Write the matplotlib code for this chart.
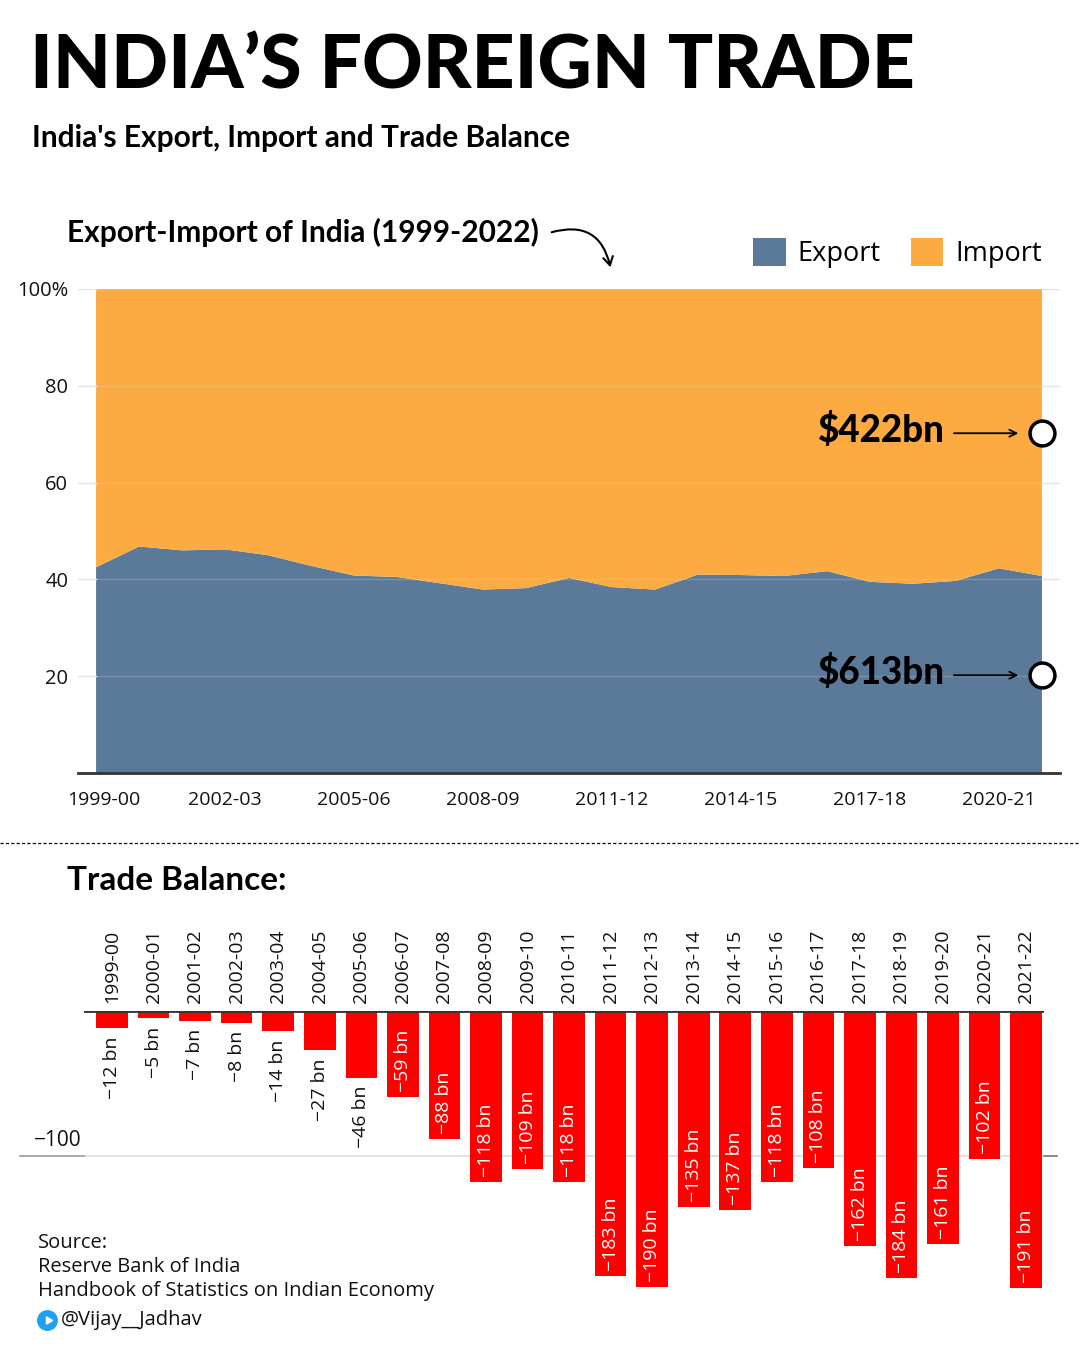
import matplotlib
matplotlib.use("Agg")
import matplotlib.pyplot as plt
from matplotlib.patches import FancyArrowPatch, Patch
import matplotlib.transforms as mtransforms
import numpy as np

# ---------------- data ----------------
years = ["1999-00", "2000-01", "2001-02", "2002-03", "2003-04", "2004-05",
         "2005-06", "2006-07", "2007-08", "2008-09", "2009-10", "2010-11",
         "2011-12", "2012-13", "2013-14", "2014-15", "2015-16", "2016-17",
         "2017-18", "2018-19", "2019-20", "2020-21", "2021-22"]
export_share = [42.5, 46.8, 46.0, 46.2, 45.0, 42.8, 40.8, 40.5, 39.2, 37.9,
                38.2, 40.3, 38.4, 37.9, 41.0, 40.9, 40.7, 41.7, 39.5, 39.1,
                39.7, 42.3, 40.7]
import_share = [100 - v for v in export_share]
trade_balance = [-12, -5, -7, -8, -14, -27, -46, -59, -88, -118, -109, -118,
                 -183, -190, -135, -137, -118, -108, -162, -184, -161, -102, -191]
area_ticks = [0, 3, 6, 9, 12, 15, 18, 21]
y_ticks = [20, 40, 60, 80, 100]
y_ticklabels = ["20", "40", "60", "80", "100%"]
callouts = [("$422bn", 70.2), ("$613bn", 20.2)]

EXPORT_C = "#5b7a99"
IMPORT_C = "#fcaa42"
BAR_C = "#ff0000"

W, H = 1080, 1350
fig = plt.figure(figsize=(W / 100, H / 100), dpi=100)
fig.patch.set_facecolor("white")

HEAD = ["Lato", "DejaVu Sans"]
BODY = ["Open Sans", "DejaVu Sans"]
plt.rcParams["font.family"] = BODY


def fx(px):
    return px / W


def fy(py):
    return 1 - py / H


# ---------------- titles ----------------
fig.text(fx(30), fy(67), "INDIA\u2019S FOREIGN TRADE", family=HEAD, weight="black",
         fontsize=54, va="center", ha="left", color="black")
fig.text(fx(32), fy(138), "India's Export, Import and Trade Balance", family=HEAD,
         weight="bold", fontsize=21.5, va="center", ha="left")
fig.text(fx(67), fy(232), "Export-Import of India (1999-2022)", family=HEAD,
         weight="bold", fontsize=21.5, va="center", ha="left")

arr = FancyArrowPatch((fx(549), fy(233)), (fx(611), fy(270)), transform=fig.transFigure,
                      connectionstyle="arc3,rad=-0.55", arrowstyle="->,head_length=6,head_width=3.5",
                      color="black", lw=1.5)
fig.add_artist(arr)

# ---------------- area chart ----------------
ax1 = fig.add_axes([fx(78), fy(773), fx(1060) - fx(78), fy(289) - fy(773)])
x = np.arange(len(years))
ax1.stackplot(x, export_share, import_share, colors=[EXPORT_C, IMPORT_C],
              linewidth=0, zorder=1)
ax1.set_xlim(-0.42, 22.42)
ax1.set_ylim(0, 100)
for v in y_ticks:
    ax1.axhline(v, color="#d8d8d8", lw=1, alpha=0.25, zorder=2)
    ax1.plot([0, 0.018], [v, v], color="#e6e6e6", lw=1, transform=ax1.get_yaxis_transform(), zorder=2)
    ax1.plot([0.982, 1.0], [v, v], color="#e6e6e6", lw=1, transform=ax1.get_yaxis_transform(), zorder=2)
ax1.set_yticks(y_ticks)
ax1.set_yticklabels(y_ticklabels)
ax1.set_xticks(area_ticks)
ax1.set_xticklabels([years[i] for i in area_ticks])
ax1.tick_params(axis="y", length=0, labelsize=14.5, colors="#111111", pad=7)
ax1.tick_params(axis="x", length=0, labelsize=14, colors="#111111", pad=13)
first = ax1.get_xticklabels()[0]
first.set_transform(first.get_transform() + mtransforms.ScaledTranslation(8 / 100, 0, fig.dpi_scale_trans))
for s in ["top", "right", "left"]:
    ax1.spines[s].set_visible(False)
ax1.spines["bottom"].set_color("#333333")
ax1.spines["bottom"].set_linewidth(2)
ax1.spines["bottom"].set_zorder(3)

for label, yv in callouts:
    ax1.scatter([len(years) - 1], [yv], s=320, facecolor="white", edgecolor="black",
                linewidth=2.5, zorder=6, clip_on=False)
    ax1.annotate("", xy=(len(years) - 1, yv), xycoords="data",
                 xytext=(-88, 0), textcoords="offset pixels",
                 arrowprops=dict(arrowstyle="->,head_length=0.5,head_width=0.25",
                                 color="black", lw=1.3, shrinkA=0, shrinkB=17),
                 zorder=5)
    ax1.annotate(label, xy=(len(years) - 1, yv), xycoords="data",
                 xytext=(-97, 3), textcoords="offset pixels", ha="right", va="center",
                 family=HEAD, weight="black", fontsize=26.5, color="black", zorder=5)

fig.legend(handles=[Patch(facecolor=EXPORT_C, label="Export"),
                    Patch(facecolor=IMPORT_C, label="Import")],
           loc="center right", bbox_to_anchor=(fx(1042), fy(253)), ncol=2,
           frameon=False, fontsize=19.5, handlelength=1.2, handleheight=1.2,
           handletextpad=0.45, columnspacing=1.1, borderaxespad=0, borderpad=0)

# separator
fig.add_artist(plt.Line2D([0, 1], [fy(843), fy(843)], transform=fig.transFigure,
                          color="black", lw=0.9, linestyle=(0, (2.5, 1.8))))

# ---------------- trade balance bars ----------------
fig.text(fx(67), fy(881), "Trade Balance:", family=HEAD, weight="bold", fontsize=24,
         va="center", ha="left")

ax2 = fig.add_axes([fx(84), fy(1301), fx(1044) - fx(84), fy(1011) - fy(1301)])
xb = np.arange(len(trade_balance))
ax2.bar(xb, trade_balance, width=0.76, color=BAR_C, zorder=2)
ax2.set_xlim(-0.674, 22.43)
ax2.set_ylim(-200, 0)
ax2.axis("off")
ax2.axhline(0, color="#333333", lw=2, zorder=3)
ax2.axhline(-100, color="#dddddd", lw=1.2, zorder=1)
blend = mtransforms.blended_transform_factory(ax2.transAxes, ax2.transData)
ax2.plot([(20 - 84) / 960, 0], [-100, -100], transform=blend, color="#999999", lw=1.2,
         clip_on=False)
ax2.plot([1.0, (1057 - 84) / 960], [-100, -100], transform=blend, color="#777777", lw=1.2,
         clip_on=False)
lab_tr = blend + mtransforms.ScaledTranslation(-2 / 100, 5 / 100, fig.dpi_scale_trans)
ax2.text(0, -100, "\u2212100", transform=lab_tr, ha="right", va="bottom",
         fontsize=15, color="#111111")

off_up = mtransforms.offset_copy(ax2.transData, fig=fig, x=0, y=8, units="dots")
off_in = mtransforms.offset_copy(ax2.transData, fig=fig, x=0, y=5, units="dots")
off_out = mtransforms.offset_copy(ax2.transData, fig=fig, x=0, y=-8, units="dots")
for i, (yr, v) in enumerate(zip(years, trade_balance)):
    ax2.text(i, 0, yr, rotation=90, ha="center", va="bottom", fontsize=14,
             color="#111111", transform=off_up, clip_on=False)
    lab = f"{v} bn".replace("-", "\u2212")
    if v > -50:
        ax2.text(i, v, lab, rotation=90, ha="center", va="top", fontsize=14,
                 color="#111111", transform=off_out, clip_on=False)
    else:
        ax2.text(i, v, lab, rotation=90, ha="center", va="bottom", fontsize=14,
                 color="white", transform=off_in, clip_on=False, zorder=4)

# ---------------- source ----------------
src = ["Source:", "Reserve Bank of India", "Handbook of Statistics on Indian Economy"]
for k, line in enumerate(src):
    fig.text(fx(38), fy(1243 + 24 * k), line, fontsize=14.5, va="center", ha="left",
             color="#111111")
fig.add_artist(plt.Line2D([fx(47)], [fy(1320)], transform=fig.transFigure, marker="o",
                          markersize=14, color="#1da1f2", linestyle="none"))
fig.add_artist(plt.Line2D([fx(47.5)], [fy(1320)], transform=fig.transFigure, marker=(3, 0, -90),
                          markersize=6, color="white", linestyle="none"))
fig.text(fx(61), fy(1320), "@Vijay__Jadhav", fontsize=14.5, va="center", ha="left",
         color="#111111")

fig.savefig("out.png", dpi=100, facecolor="white")
